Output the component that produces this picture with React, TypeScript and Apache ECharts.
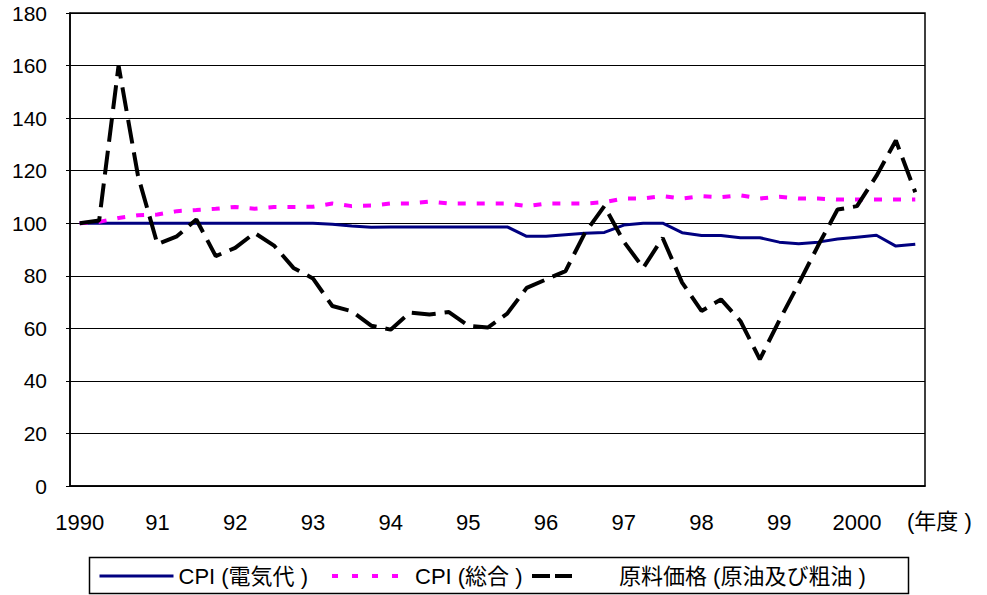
import React, { useEffect, useRef } from "react";
import * as echarts from "echarts";

const yearLabels = ["1990", "91", "92", "93", "94", "95", "96", "97", "98", "99", "2000"];
const quarters = ["Q1", "Q2", "Q3", "Q4"];
const categories: string[] = [];
yearLabels.forEach((y) => quarters.forEach((q) => categories.push(y + q)));

const seriesNames = ["CPI (電気代 )", "CPI (総合 )", "原料価格 (原油及び粗油 )"];

const cpiElectricity = [
  100, 100, 100, 100, 100, 100, 100, 100, 100, 100, 100, 100, 100, 99.6, 98.9, 98.5,
  98.6, 98.6, 98.6, 98.6, 98.6, 98.6, 98.6, 95, 95, 95.6, 96.2, 96.5, 99.3, 100, 100, 96.4,
  95.3, 95.3, 94.5, 94.5, 92.8, 92.2, 92.8, 94, 94.7, 95.4, 91.3, 92,
];

const cpiGeneral = [
  100, 100.5, 102, 103, 103.3, 104.6, 105, 105.5, 106.2, 105.5, 106.2, 106.2, 106.3, 107.5, 106.5, 106.7,
  107.5, 107.5, 108.2, 107.5, 107.5, 107.5, 107.5, 106.5, 107.5, 107.5, 107.5, 108, 109.4, 109.4, 110.3, 109.4,
  110.3, 109.9, 110.6, 109.4, 110.1, 109.4, 109.4, 109, 109, 109, 109, 109,
];

const crudePrice = [
  100, 101, 160, 118, 92, 95, 101.4, 87.5, 90.6, 96.3, 91.5, 83, 79, 68.5, 66.5, 61,
  59.5, 66, 65.3, 66.2, 61, 60.3, 65.6, 75.4, 78.6, 81.8, 96.3, 106.5, 93, 83, 94.4, 77.4,
  66.6, 71, 62.8, 48.2, 63, 77, 91.5, 105.2, 106.5, 118, 131.5, 111.8,
];

const FONT = "'Liberation Sans', Arial, 'Noto Sans CJK JP', sans-serif";

const legendBase = {
  show: true,
  top: 565,
  padding: 0,
  itemHeight: 14,
  itemGap: 0,
  selectedMode: false,
  itemStyle: { opacity: 0 },
  textStyle: { fontSize: 22, color: "#000", fontFamily: FONT },
};

export default function App() {
  const ref = useRef<HTMLDivElement>(null);
  useEffect(() => {
    if (!ref.current) return;
    const chart = echarts.init(ref.current, undefined, { renderer: "svg" });
    chart.setOption({
      animation: false,
      backgroundColor: "#fff",
      textStyle: { fontFamily: FONT, color: "#000" },
      grid: {
        left: 70,
        right: 62,
        top: 13,
        bottom: 109,
        show: true,
        borderColor: "#000",
        borderWidth: 1.5,
        backgroundColor: "transparent",
      },
      xAxis: {
        type: "category",
        data: categories,
        boundaryGap: true,
        axisLine: { lineStyle: { color: "#000", width: 1.5 } },
        axisTick: { inside: true, length: 6, interval: 0, lineStyle: { color: "#000", width: 1 } },
        axisLabel: {
          interval: 3,
          margin: 25,
          fontSize: 22,
          color: "#000",
          fontFamily: FONT,
          formatter: (_v: string, idx: number) => yearLabels[Math.floor(idx / 4)],
        },
        splitLine: { show: false },
      },
      yAxis: {
        type: "value",
        min: 0,
        max: 180,
        interval: 20,
        axisLine: { show: true, lineStyle: { color: "#000", width: 1.5 } },
        axisTick: { show: true, length: 4, lineStyle: { color: "#000" } },
        axisLabel: { fontSize: 21, color: "#000", margin: 23, fontFamily: FONT },
        splitLine: { show: true, lineStyle: { color: "#000", width: 1 } },
      },
      legend: [
        {
          ...legendBase,
          left: 98,
          itemWidth: 74,
          lineStyle: { width: 3 },
          data: [seriesNames[0]],
        },
        {
          ...legendBase,
          left: 330,
          itemWidth: 78,
          lineStyle: { width: 4, type: [6, 14] },
          data: [seriesNames[1]],
        },
        {
          ...legendBase,
          left: 530,
          itemWidth: 82,
          lineStyle: { width: 4, type: [18, 5, 17, 100] },
          data: [seriesNames[2]],
        },
      ],
      graphic: [
        {
          type: "rect",
          shape: { x: 89.5, y: 557.5, width: 819, height: 36 },
          style: { fill: "none", stroke: "#000", lineWidth: 1.5 },
          silent: true,
        },
        {
          type: "text",
          left: 907,
          top: 510,
          style: { text: "(年度 )", font: `22px ${FONT}`, fill: "#000" },
        },
      ],
      series: [
        {
          name: seriesNames[0],
          type: "line",
          data: cpiElectricity,
          symbol: "none",
          lineStyle: { color: "#000080", width: 3, type: "solid" },
          itemStyle: { color: "#000080" },
        },
        {
          name: seriesNames[1],
          type: "line",
          data: cpiGeneral,
          symbol: "none",
          lineStyle: { color: "#FF00FF", width: 4, type: [8, 11] },
          itemStyle: { color: "#FF00FF" },
        },
        {
          name: seriesNames[2],
          type: "line",
          data: crudePrice,
          symbol: "none",
          lineStyle: { color: "#000", width: 4, type: [24, 9] },
          itemStyle: { color: "#000" },
        },
      ],
    });
    return () => chart.dispose();
  }, []);
  return (
    <div
      ref={ref}
      style={{ position: "fixed", left: 0, top: 0, width: 987, height: 595, background: "#fff" }}
    />
  );
}
